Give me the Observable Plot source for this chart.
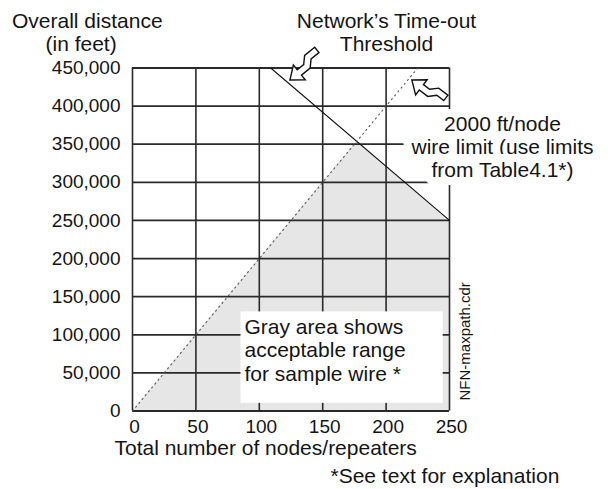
<!DOCTYPE html>
<html>
<head>
<meta charset="utf-8">
<script src="https://cdn.jsdelivr.net/npm/d3@7"></script>
<script src="https://cdn.jsdelivr.net/npm/@observablehq/plot@0.6"></script>
<style>
  html, body { margin: 0; padding: 0; background: #ffffff; }
  svg { display: block; }
</style>
</head>
<body>
<div id="chart"></div>
<script>
// ---- data ----
const xTicks = [0, 50, 100, 150, 200, 250];
const yTicks = [0, 50000, 100000, 150000, 200000, 250000, 300000, 350000, 400000, 450000];

// 2000 ft/node wire limit (dotted)
const wireLimit = [
  {nodes: 0, feet: 0},
  {nodes: 225, feet: 450000}
];
// Network's time-out threshold (solid)
const timeout = [
  {nodes: 109, feet: 450000},
  {nodes: 250, feet: 250000}
];
// Upper edge of the gray (acceptable) area
const acceptable = [
  {nodes: 0, feet: 0},
  {nodes: 177, feet: 354000},
  {nodes: 250, feet: 250000}
];
// White note box behind the "Gray area" note (data units)
const noteBox = [{x1: 85.6, x2: 245, y1: 10000, y2: 130000}];
// Pointer arrows: tip and tail in data units
const arrows = [
  {tipNodes: 124.6, tipFeet: 433600, tailNodes: 149, tailFeet: 466400},
  {tipNodes: 220.7, tipFeet: 433600, tailNodes: 244.4, tailFeet: 403400}
];

const yTitleLine1 = "Overall distance";
const yTitleLine2 = "(in feet)";
const xTitle = "Total number of nodes/repeaters";
const timeoutTitle = "Network’s Time-out\nThreshold";
const wireNote = "2000 ft/node\nwire limit (use limits\nfrom Table4.1*)";
const grayNote = "Gray area shows\nacceptable range\nfor sample wire *";
const fileTag = "NFN-maxpath.cdr";
const footnote = "*See text for explanation";

// ---- layout ----
const W = 608, H = 489;
const M = {left: 132, right: 159, top: 67.5, bottom: 78.5};
const FONT = "'Liberation Sans', Arial, Helvetica, sans-serif";
const INK = "#141414";

function label(text, x, y, o = {}) {
  return Plot.text([text], {
    text: d => d,
    frameAnchor: "top-left",
    dx: x - M.left,
    dy: y - M.top,
    lineAnchor: "bottom",
    textAnchor: "start",
    fontSize: 21,
    fill: INK,
    ...o
  });
}

function arrowPath(L) {
  const a = 12, hw = 9.5, sw = 3.4, off = -6.5, d = 2.8;
  const j1 = a + (L - a) * 0.3, j2 = j1 + 6.5;
  return `M0,0 L${a},${-hw} L${a},${-sw} L${j1},${-sw} L${j2},${off - sw} L${L},${off - sw} ` +
         `L${L},${off + sw} L${j2 + d},${off + sw} L${j1 + d},${sw} L${a},${sw} L${a},${hw} Z`;
}

function arrowMark(index, scales) {
  const g = d3.create("svg:g");
  for (const ar of arrows) {
    const tx = scales.x(ar.tipNodes), ty = scales.y(ar.tipFeet);
    const ux = scales.x(ar.tailNodes), uy = scales.y(ar.tailFeet);
    const ang = Math.atan2(uy - ty, ux - tx) * 180 / Math.PI;
    const len = Math.hypot(ux - tx, uy - ty);
    g.append("path")
      .attr("d", arrowPath(len))
      .attr("transform", `translate(${tx},${ty}) rotate(${ang})`)
      .attr("fill", "white")
      .attr("stroke", "#111")
      .attr("stroke-width", 1.4)
      .attr("stroke-linejoin", "miter");
  }
  return g.node();
}

const chart = Plot.plot({
  width: W,
  height: H,
  marginLeft: M.left,
  marginRight: M.right,
  marginTop: M.top,
  marginBottom: M.bottom,
  style: {fontFamily: FONT, fontSize: "19px", background: "white", color: INK},
  x: {domain: [0, 250], axis: null},
  y: {domain: [0, 450000], axis: null},
  marks: [
    Plot.areaY(acceptable, {x: "nodes", y: "feet", fill: "#e6e6e6", curve: "linear"}),
    Plot.gridX(xTicks, {stroke: "#2a2a2a", strokeOpacity: 1, strokeWidth: 1.6}),
    Plot.gridY(yTicks, {stroke: "#2a2a2a", strokeOpacity: 1, strokeWidth: 1.8}),
    Plot.line(timeout, {x: "nodes", y: "feet", stroke: "#111", strokeWidth: 1.1}),
    Plot.line(wireLimit, {x: "nodes", y: "feet", stroke: "#555", strokeWidth: 1.1, strokeDasharray: "1.2,3.8"}),
    Plot.rect(noteBox, {x1: "x1", x2: "x2", y1: "y1", y2: "y2", fill: "white"}),
    label(grayNote, 244, 380, {lineHeight: 23.3 / 21}),
    label(wireNote, 502, 176, {textAnchor: "middle", lineHeight: 23 / 21,
      stroke: "white", strokeWidth: 16, strokeLinejoin: "round", paintOrder: "stroke"}),
    arrowMark,
    Plot.axisY({ticks: yTicks, tickFormat: d3.format(","), tickSize: 0, tickPadding: 12,
      fontSize: 19, fill: INK, label: null}),
    Plot.axisX({ticks: xTicks, tickFormat: d3.format("d"), tickSize: 0, tickPadding: 8, dx: 2,
      fontSize: 19, fill: INK, label: null}),
    label(xTitle, 114, 454),
    label(yTitleLine1, 11.5, 27),
    label(yTitleLine2, 45, 50),
    label(timeoutTitle, 386, 50, {textAnchor: "middle", lineHeight: 23 / 21}),
    label(fileTag, 469, 400, {rotate: -90, fontSize: 15}),
    label(footnote, 330, 482)
  ]
});

document.getElementById("chart").appendChild(chart);
</script>
</body>
</html>
